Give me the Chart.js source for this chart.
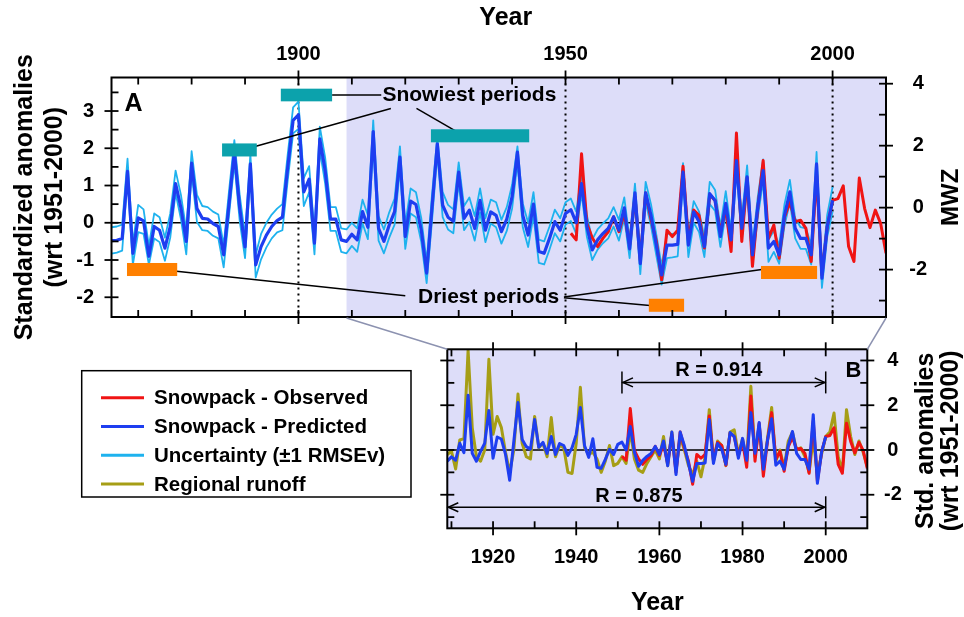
<!DOCTYPE html>
<html><head><meta charset="utf-8">
<script src="https://cdn.jsdelivr.net/npm/chart.js@4.4.0/dist/chart.umd.min.js"></script>
<style>
html,body{margin:0;padding:0;background:#fff;}
#wrap{position:relative;width:964px;height:617px;overflow:hidden;}
canvas{position:absolute;left:0;top:0;}
</style></head><body>
<div id="wrap"><canvas id="cA" width="964" height="617"></canvas><canvas id="cB" width="964" height="617"></canvas></div>
<script>
// ---------------- DATA ----------------
const PRED_START = 1865;   // first year of predicted series
const OBS_START = 1951;    // first year of observed snowpack
const RUNOFF_START = 1909; // first year of regional runoff

const predicted = [
 -0.48,-0.47,-0.42,1.38,-0.82,0.13,0.05,-0.9,-0.1,-0.2,
 -0.68,-0.1,1.05,0.4,-0.5,1.6,0.38,0.12,0.1,-0.02,
 -0.1,-0.86,0.5,1.9,0.4,-0.65,1.58,-1.13,-0.64,-0.33,
 -0.1,0.06,0.15,1.5,2.75,2.9,0.83,1.17,-0.55,2.25,
 1.4,0.1,0.1,-0.46,-0.5,-0.31,-0.46,0.3,-0.12,2.45,
 -0.15,-0.5,-0.06,0.3,1.76,-0.37,0.58,0.49,-0.2,-1.35,
 0.4,2.12,0.47,0.15,0.04,1.36,0.12,0.34,-0.15,0.6,
 -0.2,0.29,0.2,-0.24,0.1,0.7,1.9,0.2,-0.33,0.5,
 -0.77,-0.82,-0.42,0.03,-0.2,0.25,0.35,0.0,1.05,-0.1,
 -0.73,-0.46,-0.29,-0.15,0.16,-0.2,0.4,-0.7,0.8,-1.1,
 0.8,0.2,-0.6,-1.4,-0.6,-0.6,-0.58,1.36,-0.6,0.29,
 0.03,-0.64,0.78,0.6,-0.37,0.52,-0.46,1.67,-0.15,1.23,
 -0.86,0.43,1.4,-0.68,-0.5,-0.86,0.2,0.83,-0.15,-0.42,
 -0.42,-0.86,1.58,-1.49,-0.1,0.6
];
const upperBand = [
 -0.12,-0.1,-0.05,1.72,-0.55,0.48,0.36,-0.62,0.25,0.15,
 -0.4,0.25,1.4,0.75,-0.2,1.92,0.75,0.45,0.42,0.3,
 0.22,-0.6,0.85,2.22,0.75,-0.35,1.85,-0.85,-0.3,0.0,
 0.22,0.38,0.5,1.85,3.1,3.25,1.2,1.52,-0.25,2.58,
 1.75,0.42,0.42,-0.15,-0.18,0.0,-0.15,0.62,0.2,2.75,
 0.18,-0.18,0.28,0.65,2.05,-0.05,0.92,0.82,0.12,-1.05,
 0.75,2.3,0.82,0.48,0.36,1.62,0.45,0.68,0.18,0.92,
 0.12,0.62,0.55,0.08,0.42,1.02,2.05,0.52,0.0,0.82,
 -0.45,-0.5,-0.1,0.35,0.12,0.55,0.65,0.3,1.3,0.2,
 -0.45,-0.18,-0.02,0.12,0.42,0.08,0.68,-0.45,1.05,-0.85,
 1.1,0.5,-0.32,-1.15,-0.3,-0.3,-0.28,1.6,-0.32,0.58,
 0.3,-0.38,1.1,0.88,-0.1,0.85,-0.2,1.9,0.12,1.54,
 -0.6,0.7,1.7,-0.45,-0.22,-0.6,0.5,1.15,0.12,-0.12,
 -0.15,-0.6,1.9,-1.25,0.22,0.96
];
const lowerBand = [
 -0.83,-0.8,-0.75,1.2,-1.12,-0.25,-0.3,-1.12,-0.42,-0.52,
 -1.02,-0.4,0.8,0.1,-0.85,1.35,0.02,-0.2,-0.22,-0.35,
 -0.42,-1.2,0.2,1.6,0.05,-0.95,1.3,-1.47,-0.98,-0.66,
 -0.42,-0.26,-0.2,1.15,2.4,2.52,0.45,0.82,-0.85,1.95,
 1.05,-0.22,-0.22,-0.78,-0.82,-0.62,-0.78,-0.02,-0.44,2.1,
 -0.48,-0.82,-0.4,-0.05,1.45,-0.7,0.25,0.15,-0.52,-1.62,
 0.05,1.85,0.15,-0.18,-0.28,1.08,-0.2,0.02,-0.48,0.28,
 -0.52,-0.02,-0.12,-0.56,-0.22,0.38,1.62,-0.12,-0.65,0.18,
 -1.08,-1.12,-0.72,-0.28,-0.5,-0.05,0.05,-0.3,0.8,-0.38,
 -1.0,-0.72,-0.55,-0.42,-0.1,-0.48,0.12,-0.95,0.55,-1.38,
 0.55,-0.08,-0.88,-1.66,-0.95,-0.93,-0.9,1.1,-0.92,0.0,
 -0.25,-0.92,0.5,0.32,-0.65,0.25,-0.72,1.4,-0.42,0.95,
 -1.12,0.15,1.12,-1.05,-0.78,-1.1,-0.08,0.55,-0.42,-0.7,
 -0.7,-1.12,1.3,-1.75,-0.38,0.3
];
const observed = [
 -0.28,-0.46,1.85,-0.02,-0.4,-0.64,-0.42,-0.24,0.16,-0.24,
 0.25,-0.6,0.7,-1.0,0.8,0.1,-0.5,-1.53,-0.2,-0.37,
 -0.2,1.52,-0.45,0.34,0.2,-0.68,0.75,0.6,-0.25,0.38,
 -0.77,2.41,-0.5,1.2,-1.17,0.4,1.67,-0.42,-0.06,-0.95,
 0.15,0.56,0.03,0.07,-0.15,-1.04,1.3,-1.4,-0.1,0.6,
 0.65,0.99,-0.64,-1.04,1.2,0.38,-0.13,0.34,-0.02,-0.82
];
const runoff = [
 -0.2,-0.05,-0.85,0.45,0.5,4.45,1.0,-0.3,-0.5,0.0,
 4.05,0.7,1.5,1.0,-0.1,-1.0,0.0,2.5,0.3,-0.3,
 -0.4,1.5,0.1,0.3,-0.3,1.45,-0.3,0.2,0.1,-1.0,
 -1.05,0.3,2.8,0.1,-0.2,-0.1,-0.4,-1.0,-0.5,0.2,
 -0.7,-0.6,-0.3,-0.6,0.9,-0.4,-0.9,-1.0,-0.6,-0.3,
 0.0,-0.4,0.6,-0.7,0.8,-0.9,0.6,0.0,-0.7,-1.1,
 -0.5,-1.2,-0.3,1.8,-0.5,0.4,0.2,-0.7,0.8,0.9,
 -0.2,0.5,-0.5,2.85,-0.3,1.1,-0.9,0.5,1.9,-0.5,
 0.0,-0.8,0.4,0.8,0.0,0.1,-0.3,-1.0,0.5,-1.1,
 -0.2,0.6,0.8,1.65,-0.3,-0.95,1.8,0.6,-0.2,0.4,
 -0.1,-0.75
];

// tick labels
const A_TOP_TICKS = [1900, 1950, 2000];
const A_LEFT_TICKS = [-2, -1, 0, 1, 2, 3];
const A_RIGHT_TICKS = [-2, 0, 2, 4];
const B_BOTTOM_TICKS = [1920, 1940, 1960, 1980, 2000];
const B_RIGHT_TICKS = [-2, 0, 2, 4];

// annotations (data units)
const snowiestBoxes = [[1896.7,1906.3,3.26,3.60],[1885.7,1892.2,1.78,2.13],[1924.8,1943.2,2.16,2.51]];
const driestBoxes = [[1867.9,1877.3,-1.43,-1.08],[1965.6,1972.2,-2.39,-2.04],[1986.6,1997.1,-1.51,-1.16]];
const snowLeaders = [[1906.3,3.43,1915.5,3.43],[1890.7,2.0,1917.3,3.07],[1930.2,2.4,1922.1,3.07]];
const dryLeaders = [[1875,-1.27,1920,-1.96],[1949.7,-2.01,1965.8,-2.22],[1949.7,-1.99,1989.1,-1.21]];

// ---------------- STYLE ----------------
const FF = '"Liberation Sans", Arial, Helvetica, sans-serif';
Chart.defaults.font.family = FF;
Chart.defaults.color = '#000';
const RED='rgb(240,20,20)', BLUE='rgb(30,62,240)', LBLUE='rgb(30,178,238)', OLIVE='rgb(166,158,22)';
const LAV='rgb(221,221,249)', TEAL='rgb(12,162,172)', ORANGE='rgb(255,128,0)', LINK='rgb(140,146,176)';
const bold = s => `bold ${s}px ${FF}`;

function xy(start, vals){ return vals.map((v,i)=>({x:start+i, y:v})); }
function seg(ctx,x1,y1,x2,y2){ ctx.beginPath(); ctx.moveTo(x1,y1); ctx.lineTo(x2,y2); ctx.stroke(); }
function range(a,b,s){ const r=[]; for(let v=a; v<=b+1e-9; v+=s) r.push(Math.round(v*100)/100); return r; }

function ticksX(ctx, a, sc, vals, majors, len){
  for (const v of vals){
    const p = sc.getPixelForValue(v); const m = majors.includes(v);
    seg(ctx,p,a.top-(m?len:0),p,a.top+len);
    seg(ctx,p,a.bottom-len,p,a.bottom+(m?len:0));
  }
}
function ticksY(ctx, a, sc, vals, majors, len, side){
  for (const v of vals){
    const p = sc.getPixelForValue(v); const m = majors.includes(v);
    if (side==='left') seg(ctx,a.left-(m?len:0),p,a.left+len,p);
    else seg(ctx,a.right-len,p,a.right+(m?len:0),p);
  }
}
function vtext(ctx, txt, x, y, font){
  ctx.save(); ctx.translate(x,y); ctx.rotate(-Math.PI/2);
  ctx.font=font; ctx.textAlign='center'; ctx.textBaseline='middle'; ctx.fillStyle='#000';
  ctx.fillText(txt,0,0); ctx.restore();
}

const legendItems = [
  [RED,'Snowpack - Observed'],[BLUE,'Snowpack - Predicted'],
  [LBLUE,'Uncertainty (\u00b11 RMSEv)'],[OLIVE,'Regional runoff']
];

// ---------------- PANEL A ----------------
const panelA = {
  id:'panelA',
  beforeDatasetsDraw(c){
    const {ctx, chartArea:a, scales:{x,y}} = c;
    ctx.save();
    const xs = x.getPixelForValue(RUNOFF_START);
    ctx.fillStyle = LAV; ctx.fillRect(xs,a.top,a.right-xs,a.bottom-a.top);
    ctx.strokeStyle='#000'; ctx.lineWidth=2; ctx.setLineDash([2,4]);
    for (const yr of A_TOP_TICKS){ const p=x.getPixelForValue(yr); seg(ctx,p,a.top,p,a.bottom); }
    ctx.setLineDash([]); ctx.lineWidth=1.5;
    const y0=y.getPixelForValue(0); seg(ctx,a.left,y0,a.right,y0);
    ctx.restore();
  },
  afterDatasetsDraw(c){
    const {ctx, chartArea:a, scales:{x,y,y2}} = c;
    ctx.save();
    const X=v=>x.getPixelForValue(v), Y=v=>y.getPixelForValue(v);
    ctx.strokeStyle='#000'; ctx.lineWidth=1.5;
    for (const l of snowLeaders.concat(dryLeaders)) seg(ctx,X(l[0]),Y(l[1]),X(l[2]),Y(l[3]));
    ctx.fillStyle=TEAL;
    for (const b of snowiestBoxes) ctx.fillRect(X(b[0]),Y(b[3]),X(b[1])-X(b[0]),Y(b[2])-Y(b[3]));
    ctx.fillStyle=ORANGE;
    for (const b of driestBoxes) ctx.fillRect(X(b[0]),Y(b[3]),X(b[1])-X(b[0]),Y(b[2])-Y(b[3]));
    ctx.fillStyle='#000'; ctx.font=bold(21); ctx.textAlign='center'; ctx.textBaseline='middle';
    ctx.fillText('Snowiest periods', X(1932.0), Y(3.42));
    ctx.fillText('Driest periods', X(1935.6), Y(-2.01));
    // frame & ticks
    ctx.lineWidth=2; ctx.strokeRect(a.left,a.top,a.right-a.left,a.bottom-a.top);
    ctx.lineWidth=1.8;
    ticksX(ctx,a,x,range(1870,2000,10),A_TOP_TICKS,7);
    ticksY(ctx,a,y,range(-2,3.5,0.5),A_LEFT_TICKS,7,'left');
    ticksY(ctx,a,y2,range(-3,4,1),A_RIGHT_TICKS,7,'right');
    // top axis title
    ctx.font=bold(25); ctx.textAlign='center'; ctx.textBaseline='middle';
    ctx.fillText('Year', (a.left+a.right)/2+7, 18);
    // panel label
    ctx.font=bold(25); ctx.textAlign='left'; ctx.textBaseline='alphabetic';
    ctx.fillText('A', a.left+13, a.top+33);
    // right title
    vtext(ctx,'MWZ', 951, (a.top+a.bottom)/2, bold(24));
    // legend
    const L={l:81.7,t:370.7,r:411,b:497};
    ctx.lineWidth=1.5; ctx.strokeStyle='#000'; ctx.strokeRect(L.l,L.t,L.r-L.l,L.b-L.t);
    ctx.font=bold(20.5); ctx.textBaseline='middle';
    legendItems.forEach((it,i)=>{
      const yy = 397.7 + i*28.8;
      ctx.strokeStyle=it[0]; ctx.lineWidth=3; seg(ctx,101,yy,144,yy);
      ctx.fillStyle='#000'; ctx.fillText(it[1],154,yy+1);
    });
    ctx.restore();
  }
};

const chartA = new Chart(document.getElementById('cA'), {
  type:'line',
  data:{datasets:[
    {label:'Snowpack - Observed', data:xy(OBS_START,observed), borderColor:RED, borderWidth:3, order:1},
    {label:'Snowpack - Predicted', data:xy(PRED_START,predicted), borderColor:BLUE, borderWidth:3.2, order:0},
    {label:'Uncertainty (\u00b11 RMSEv)', data:xy(PRED_START,upperBand), borderColor:LBLUE, borderWidth:1.8, order:2},
    {label:'Uncertainty lower', data:xy(PRED_START,lowerBand), borderColor:LBLUE, borderWidth:1.8, order:2}
  ]},
  options:{
    responsive:false, animation:false, devicePixelRatio:1, events:[],
    layout:{padding:{top:0,left:0,right:0,bottom:300}},
    elements:{point:{radius:0,hoverRadius:0}, line:{tension:0,borderJoinStyle:'round',fill:false}},
    plugins:{legend:{display:false}, tooltip:{enabled:false}},
    scales:{
      x:{type:'linear', position:'top', min:1865, max:2010,
         grid:{display:false,drawTicks:false}, border:{display:false},
         ticks:{font:{size:20,weight:'bold'}, color:'#000', padding:11, autoSkip:false, maxRotation:0, callback:v=>String(v)},
         afterBuildTicks:s=>{s.ticks=A_TOP_TICKS.map(v=>({value:v}));},
         afterFit:s=>{s.height=77.5;},
         title:{display:false}},
      y:{type:'linear', position:'left', min:-2.53, max:3.9,
         grid:{display:false,drawTicks:false}, border:{display:false},
         ticks:{font:{size:20,weight:'bold'}, color:'#000', padding:17.5, callback:v=>String(v)},
         afterBuildTicks:s=>{s.ticks=A_LEFT_TICKS.map(v=>({value:v}));},
         afterFit:s=>{s.width=111.5;},
         title:{display:true,text:['Standardized anomalies','(wrt 1951-2000)'],font:{size:25,weight:'bold',lineHeight:1.2},color:'#000',padding:{top:10,bottom:0}}},
      y2:{type:'linear', position:'right', min:-3.53, max:4.2,
         grid:{display:false,drawTicks:false}, border:{display:false},
         ticks:{font:{size:20,weight:'bold'}, color:'#000', padding:23.3, crossAlign:'center', callback:v=>String(v)},
         afterBuildTicks:s=>{s.ticks=A_RIGHT_TICKS.map(v=>({value:v}));},
         afterFit:s=>{s.width=78;}}
    }
  },
  plugins:[panelA]
});

// ---------------- PANEL B ----------------
function arrowLine(ctx,x1,x2,y,barL,barR){
  seg(ctx,x1,y,x2,y);
  ctx.beginPath(); ctx.moveTo(x1+11,y-4.5); ctx.lineTo(x1+1,y); ctx.lineTo(x1+11,y+4.5); ctx.stroke();
  ctx.beginPath(); ctx.moveTo(x2-11,y-4.5); ctx.lineTo(x2-1,y); ctx.lineTo(x2-11,y+4.5); ctx.stroke();
  if (barL) seg(ctx,x1,y-11,x1,y+11);
  if (barR) seg(ctx,x2,y-11,x2,y+11);
}
const panelB = {
  id:'panelB',
  beforeDatasetsDraw(c){
    const {ctx, chartArea:a, scales:{x,y}} = c;
    ctx.save();
    ctx.fillStyle=LAV; ctx.fillRect(a.left,a.top,a.right-a.left,a.bottom-a.top);
    ctx.strokeStyle='#000'; ctx.lineWidth=1.5;
    const y0=y.getPixelForValue(0); seg(ctx,a.left,y0,a.right,y0);
    ctx.restore();
  },
  afterDatasetsDraw(c){
    const {ctx, chartArea:a, scales:{x,y}} = c;
    const X=v=>x.getPixelForValue(v), Y=v=>y.getPixelForValue(v);
    ctx.save();
    ctx.strokeStyle='#000'; ctx.lineWidth=2; ctx.strokeRect(a.left,a.top,a.right-a.left,a.bottom-a.top);
    ctx.lineWidth=1.8;
    ticksX(ctx,a,x,range(1910,2000,10),B_BOTTOM_TICKS,7);
    ticksY(ctx,a,y,range(-3,4,1),B_RIGHT_TICKS,7,'left');
    ticksY(ctx,a,y,range(-3,4,1),B_RIGHT_TICKS,7,'right');
    // correlation arrows
    ctx.lineWidth=1.5;
    arrowLine(ctx,X(1951),X(2000),Y(3.02),true,true);
    arrowLine(ctx,X(RUNOFF_START),X(2000),Y(-2.56),false,true);
    ctx.fillStyle='#000'; ctx.font=bold(20); ctx.textAlign='center'; ctx.textBaseline='alphabetic';
    ctx.fillText('R = 0.914', X(1974.3), Y(3.32));
    ctx.fillText('R = 0.875', X(1955.1), Y(-2.33));
    ctx.font=bold(22); ctx.textAlign='right';
    ctx.fillText('B', a.right-6, a.top+27.5);
    // right titles
    const cy=(a.top+a.bottom)/2+2;
    vtext(ctx,'Std. anomalies',926,cy,bold(25));
    vtext(ctx,'(wrt 1951-2000)',951,cy,bold(25));
    // zoom connectors from panel A
    const aA = chartA.chartArea, xA = chartA.scales.x;
    ctx.strokeStyle=LINK; ctx.lineWidth=1.5;
    seg(ctx,xA.getPixelForValue(RUNOFF_START),aA.bottom+1,a.left,a.top);
    seg(ctx,aA.right,aA.bottom+1,a.right,a.top);
    ctx.restore();
  }
};

const chartB = new Chart(document.getElementById('cB'), {
  type:'line',
  data:{datasets:[
    {label:'Snowpack - Observed', data:xy(OBS_START,observed), borderColor:RED, borderWidth:3, order:1},
    {label:'Snowpack - Predicted', data:xy(PRED_START,predicted).filter(p=>p.x>=RUNOFF_START), borderColor:BLUE, borderWidth:3, order:0},
    {label:'Regional runoff', data:xy(RUNOFF_START,runoff), borderColor:OLIVE, borderWidth:3, order:2}
  ]},
  options:{
    responsive:false, animation:false, devicePixelRatio:1, events:[],
    layout:{padding:{top:349.3,left:447.3,right:0,bottom:0}},
    elements:{point:{radius:0,hoverRadius:0}, line:{tension:0,borderJoinStyle:'round',fill:false}},
    plugins:{legend:{display:false}, tooltip:{enabled:false}},
    scales:{
      x:{type:'linear', position:'bottom', min:1909, max:2010,
         grid:{display:false,drawTicks:false}, border:{display:false},
         ticks:{font:{size:20,weight:'bold'}, color:'#000', padding:17, autoSkip:false, maxRotation:0, callback:v=>String(v)},
         afterBuildTicks:s=>{s.ticks=B_BOTTOM_TICKS.map(v=>({value:v}));},
         afterFit:s=>{s.height=88.7;},
         title:{display:true,text:'Year',font:{size:25,weight:'bold',lineHeight:1},color:'#000',padding:{top:0,bottom:1}}},
      y:{type:'linear', position:'right', min:-3.5, max:4.5,
         grid:{display:false,drawTicks:false}, border:{display:false},
         ticks:{font:{size:20,weight:'bold'}, color:'#000', padding:16.7, crossAlign:'center', callback:v=>String(v)},
         afterBuildTicks:s=>{s.ticks=B_RIGHT_TICKS.map(v=>({value:v}));},
         afterFit:s=>{s.width=96.7;}}
    }
  },
  plugins:[panelB]
});
</script></body></html>
